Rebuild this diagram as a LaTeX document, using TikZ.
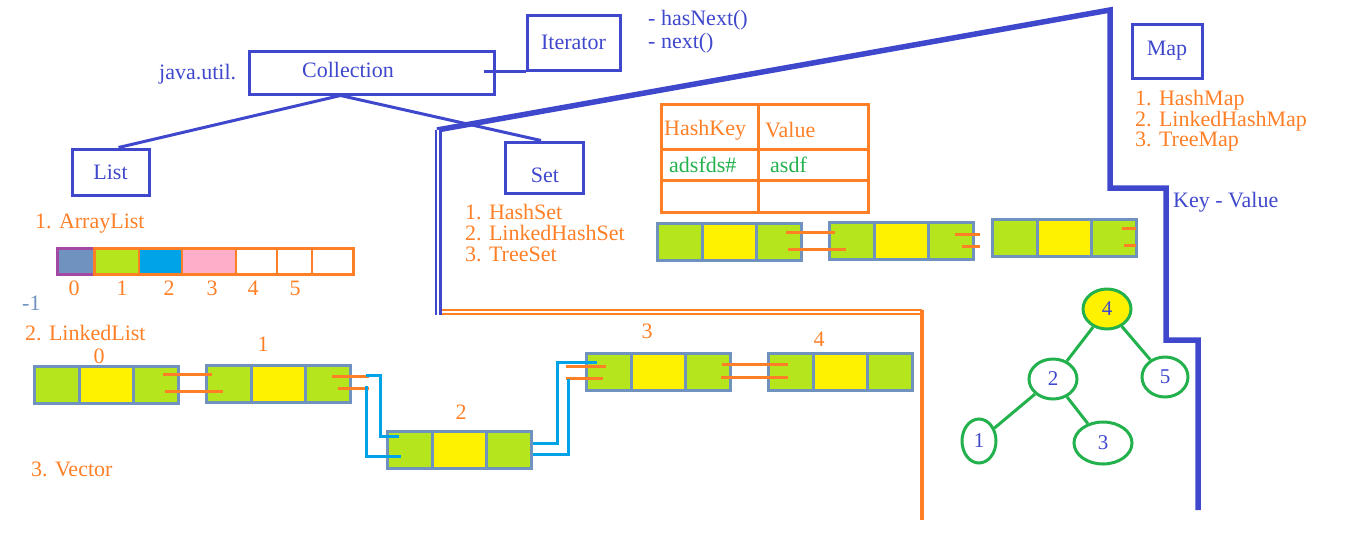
\documentclass[tikz,border=0pt]{standalone}
\usepackage{fontspec}
\setmainfont{Liberation Serif}
\usepackage{tikz}
\usepackage{xcolor}
\usetikzlibrary{shapes.geometric, arrows.meta, positioning}

\definecolor{cblue}{RGB}{63,72,204}
\definecolor{corange}{RGB}{255,127,39}
\definecolor{cgreen}{RGB}{34,177,76}
\definecolor{clime}{RGB}{181,230,29}
\definecolor{cyellow}{RGB}{255,242,0}
\definecolor{cgrey}{RGB}{112,146,190}
\definecolor{csky}{RGB}{0,162,232}
\definecolor{cpink}{RGB}{255,174,201}
\definecolor{cpurple}{RGB}{163,73,164}

\begin{document}
\begin{tikzpicture}[>=stealth, x=1pt, y=-1pt,
    txt/.style={font=\fontsize{22}{21}\selectfont, inner sep=0pt},
    btxt/.style={txt, text=cblue},
    otxt/.style={txt, text=corange},
    box/.style={draw=cblue, line width=3pt, btxt},
    cell/.style={draw=cgrey, line width=3pt, outer sep=0pt, inner sep=0pt, minimum height=37, anchor=north west},
    olink/.style={draw=corange, line width=3pt},
    slink/.style={draw=csky, line width=3pt},
    tnode/.style={ellipse, draw=cgreen, line width=3pt, text=cblue, font=\fontsize{21}{21}\selectfont, inner sep=0pt, minimum width=48, minimum height=40},
    tedge/.style={draw=cgreen, line width=3pt}]
    \useasboundingbox (0,0) rectangle (1350,555);

    % Nodes
    \node[box, minimum width=93, minimum height=55] (IT) at (573.5,42.5) {Iterator};
    \node[box, minimum width=245, minimum height=43] (COL) at (371.5,72.5) {};
    \node[btxt] at (348,70) {Collection};
    \node[btxt, anchor=west] at (159,74) {java.util.};
    \node[btxt, anchor=west] at (648,20) {- hasNext()};
    \node[btxt, anchor=west] at (648,43) {- next()};
    \node[box, minimum width=77, minimum height=46] (LST) at (110.5,172) {List};
    \node[box, minimum width=78, minimum height=51] (SET) at (544,167.5) {};
    \node[btxt] at (545,175) {Set};
    \node[box, minimum width=70, minimum height=54] (MAP) at (1167,51) {Map};
    \node[btxt, anchor=west] at (1173,202) {Key - Value};

    \foreach \y/\t in {100/1. HashMap, 121/2. LinkedHashMap, 142/3. TreeMap}
        \node[otxt, anchor=west] at (1135,\y) {\t};
    \foreach \y/\t in {212/1. HashSet, 233/2. LinkedHashSet, 254/3. TreeSet}
        \node[otxt, anchor=west] at (465,\y) {\t};

    \node[otxt, anchor=west] at (35,224) {1. ArrayList};
    \node[txt, text=cgrey, anchor=west] at (22,303) {-1};
    \node[otxt, anchor=west] at (25,333) {2. LinkedList};
    \node[otxt, anchor=west] at (31,469) {3. Vector};
    \foreach \x/\n in {74/0, 122/1, 169/2, 212/3, 253/4, 295/5}
        \node[otxt] at (\x,288) {\n};
    \foreach \x/\y/\n in {99/356/0, 263/344/1, 461/412/2, 647/331/3, 819/339/4}
        \node[otxt] at (\x,\y) {\n};

    % hash table
    \draw[corange, line width=3pt] (661,104) rectangle (868,212)
        (758,104) -- (758,212) (661,149) -- (868,149) (661,180) -- (868,180);
    \node[otxt, anchor=west] at (664,130) {HashKey};
    \node[otxt, anchor=west] at (765,130) {Value};
    \node[txt, text=cgreen, anchor=west] at (669,165) {adsfds\#};
    \node[txt, text=cgreen, anchor=west] at (770,165) {asdf};

    % array list
    \draw[cpurple, fill=cgrey, line width=3pt] (57,248) rectangle (94,274);
    \fill[clime] (94,248) rectangle (139,274);
    \fill[csky] (139,248) rectangle (182,274);
    \fill[cpink] (182,248) rectangle (236,274);
    \foreach \x in {139,182,236,277,312}
        \draw[corange, line width=1.5pt] (\x,248) -- (\x,274);
    \draw[corange, line width=3pt] (94,248) rectangle (353,274);

    % linked nodes
    \foreach \nx/\ny/\nn in {34/366/L0, 206/365/L1, 387/431/L2, 586/353/L3, 768/353/L4, 657/223/S0, 829/222/S1, 992/219/S2} {
        \node[cell, fill=clime, minimum width=45] (\nn-a) at (\nx,\ny) {};
        \node[cell, fill=cyellow, minimum width=54] (\nn-b) at (\nn-a.north east) {};
        \node[cell, fill=clime, minimum width=45] (\nn-c) at (\nn-b.north east) {};
    }

    % tree
    \node[tnode, fill=cyellow] (T4) at (1107,309) {4};
    \node[tnode] (T2) at (1053,379) {2};
    \node[tnode, minimum width=46] (T5) at (1165,377) {5};
    \node[tnode, minimum width=34, minimum height=44] (T1) at (979,441) {1};
    \node[tnode, minimum width=58, minimum height=42] (T3) at (1103,443) {3};

    % Paths
    \draw[box] ([xshift=-31]COL.south) -- ([xshift=8]LST.north);
    \draw[box] ([xshift=-31]COL.south) -- ([xshift=-3]SET.north);
    \draw[box] ([xshift=-12]COL.east |- IT.south west) -- (IT.south west);

    \draw[tedge] (T4) -- (T2);
    \draw[tedge] (T4) -- (T5);
    \draw[tedge] (T2) -- (T1);
    \draw[tedge] (T2) -- (T3);

    \draw[cblue, line width=5.5pt] (437,130) -- (1110,10) -- (1110,188) -- (1166,188)
        -- (1166,340) -- (1198,340) -- (1198,510);
    \draw[cblue, line width=2.5pt, double=white, double distance=2pt] (438,130) -- (438,315);
    \draw[corange, line width=2pt, double=white, double distance=1.5pt] (442,312) -- (922,312);
    \draw[corange, line width=4pt] (922,310) -- (922,520);

    % links
    \draw[olink] (163,374) -- (212,374) (165,391) -- (223,391);
    \draw[olink] (332,376) -- (369,376) (338,388) -- (369,388);
    \draw[olink] (566,366) -- (606,366) (566,378) -- (603,378);
    \draw[olink] (722,364) -- (788,364) (721,377) -- (788,377);
    \draw[olink] (786,232) -- (835,232) (788,249) -- (846,249);
    \draw[olink] (955,234) -- (980,234) (962,246) -- (980,246);
    \draw[olink] (1122,228) -- (1136,228) (1124,245) -- (1136,245);

    \draw[slink] (366,375) -- (380,375) -- (380,436) -- (399,436);
    \draw[slink] (366,386) -- (366,456) -- (401,456);
    \draw[slink] (533,443) -- (557,443) -- (557,362) -- (597,362);
    \draw[slink] (533,454) -- (568,454) -- (568,379);
\end{tikzpicture}
\end{document}
